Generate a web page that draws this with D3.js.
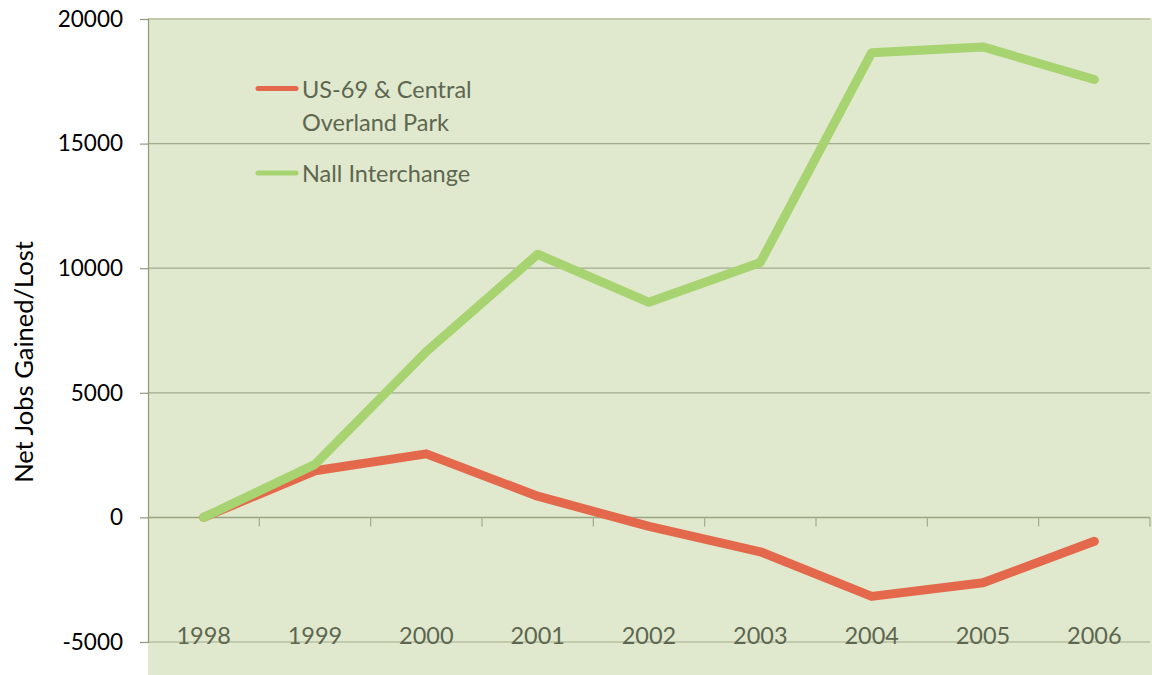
<!DOCTYPE html>
<html>
<head>
<meta charset="utf-8">
<script src="https://cdn.jsdelivr.net/npm/d3@7"></script>
<style>
  html, body { margin: 0; padding: 0; background: #fff; }
  svg { display: block; font-family: Lato, "Open Sans", "DejaVu Sans", sans-serif; }
</style>
</head>
<body>
<svg id="chart" width="1152" height="675"></svg>
<script>
// Net jobs gained/lost by year for two Overland Park corridors
const years = ["1998", "1999", "2000", "2001", "2002", "2003", "2004", "2005", "2006"];
const us69Central = [0, 1870, 2550, 850, -360, -1380, -3170, -2620, -960];
const nallInterchange = [0, 2130, 6650, 10560, 8630, 10230, 18650, 18880, 17570];
const yTicks = [-5000, 0, 5000, 10000, 15000, 20000];
const seriesNames = [["US-69 & Central", "Overland Park"], ["Nall Interchange"]];
const seriesColors = ["#e4694c", "#a7d371"];

const svg = d3.select("#chart");
const plotLeft = 148, plotRight = 1150, plotTop = 19, plotBottom = 642;

const x = d3.scaleBand().domain(years).range([plotLeft, plotRight]).padding(0);
const y = d3.scaleLinear().domain([-5000, 20000]).range([plotBottom, plotTop]);

// plot background
svg.append("rect")
  .attr("x", plotLeft).attr("y", plotTop - 1)
  .attr("width", 1152 - plotLeft).attr("height", 675 - plotTop + 1)
  .attr("fill", "#e0e9cd");

// horizontal gridlines
svg.append("g")
  .selectAll("line")
  .data(yTicks.filter(d => d !== 0))
  .join("line")
  .attr("x1", plotLeft).attr("x2", plotRight)
  .attr("y1", d => y(d)).attr("y2", d => y(d))
  .attr("stroke", "#a3ab8e").attr("stroke-width", 1.2);

// value axis (plain hyphen for negatives)
const yAxis = svg.append("g")
  .attr("transform", `translate(${plotLeft},0)`)
  .call(d3.axisLeft(y).tickValues(yTicks).tickSize(8).tickPadding(17).tickFormat(d => String(d)));
yAxis.select(".domain").attr("stroke", "#8f9979").attr("stroke-width", 1.2);
yAxis.selectAll(".tick line").attr("stroke", "#8f9979").attr("stroke-width", 1.2);
yAxis.selectAll(".tick text")
  .attr("fill", "#000").attr("font-size", 22.5)
  .attr("font-family", "Lato, 'Open Sans', sans-serif");

// category axis crossing at zero
const xAxisLine = svg.append("g").attr("transform", `translate(0,${y(0)})`);
xAxisLine.append("line")
  .attr("x1", plotLeft).attr("x2", plotRight)
  .attr("stroke", "#9aa384").attr("stroke-width", 1.5);
xAxisLine.selectAll("line.tk")
  .data(years)
  .join("line")
  .attr("class", "tk")
  .attr("x1", d => x(d) + x.bandwidth())
  .attr("x2", d => x(d) + x.bandwidth())
  .attr("y1", 0).attr("y2", 9)
  .attr("stroke", "#a3ab8e").attr("stroke-width", 1.2);

// year labels near the bottom of the plot
svg.append("g")
  .selectAll("text")
  .data(years)
  .join("text")
  .attr("x", d => x(d) + x.bandwidth() / 2)
  .attr("y", 644)
  .attr("text-anchor", "middle")
  .attr("font-size", 23.5)
  .attr("fill", "#5d6650")
  .text(d => d);

// y axis title
svg.append("text")
  .attr("transform", "translate(33,362) rotate(-90)")
  .attr("text-anchor", "middle")
  .attr("font-size", 25.5)
  .attr("fill", "#000")
  .text("Net Jobs Gained/Lost");

// series lines: US-69 first, Nall Interchange drawn over it
const line = d3.line()
  .x((d, i) => x(years[i]) + x.bandwidth() / 2)
  .y(d => y(d));

[us69Central, nallInterchange].forEach((vals, k) => {
  svg.append("path")
    .datum(vals)
    .attr("d", line)
    .attr("fill", "none")
    .attr("stroke", seriesColors[k])
    .attr("stroke-width", 9)
    .attr("stroke-linejoin", "round")
    .attr("stroke-linecap", "round");
});

// legend
const legend = svg.append("g");
const legendRows = [88.5, 173];
seriesNames.forEach((lines, i) => {
  const ly = legendRows[i];
  legend.append("line")
    .attr("x1", 258).attr("x2", 296)
    .attr("y1", ly).attr("y2", ly)
    .attr("stroke", seriesColors[i])
    .attr("stroke-width", 5)
    .attr("stroke-linecap", "round");
  const t = legend.append("text")
    .attr("x", 302).attr("y", ly + 9)
    .attr("font-size", 23.5)
    .attr("fill", "#5d6650");
  lines.forEach((s, j) => {
    t.append("tspan").attr("x", 302).attr("dy", j === 0 ? 0 : 33).text(s);
  });
});
</script>
</body>
</html>
